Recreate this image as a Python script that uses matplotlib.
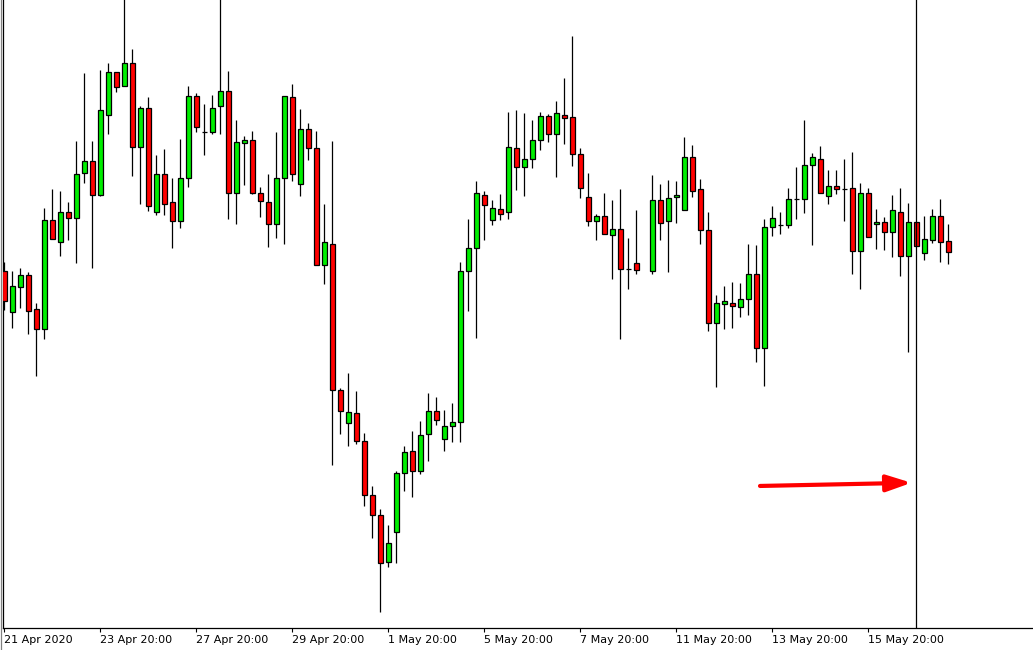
import numpy as np
import matplotlib
matplotlib.use('Agg')
import matplotlib.pyplot as plt
from matplotlib.lines import Line2D

# 4h candles, price in chart units (bigger number = lower price, axis is inverted)
opens = [686, 788, 727, 696, 782, 833, 557, 613, 535, 552, 438, 406, 492, 292, 183, 218,
         160, 372, 274, 535, 441, 512, 560, 449, 244, 335, 335, 269, 231, 489, 362, 353,
         487, 512, 567, 451, 246, 466, 327, 375, 671, 616, 987, 1070, 1045, 1116, 1252, 1303,
         1422, 1346, 1197, 1141, 1190, 1098, 1040, 1111, 1078, 1066, 686, 626, 492, 557, 528, 537,
         375, 423, 403, 353, 294, 340, 290, 297, 390, 497, 560, 547, 595, 580, 681, 666,
         np.nan, 686, 507, 560, 499, 530, 396, 479, 582, 818, 769, 767, 777, 755, 693, 881,
         575, 570, 570, 504, 504, 418, 401, 496, 471, 478, 476, 635, 487, 567, 562, 587,
         535, 648, 562, 640, 607, 547, 610]
highs = [663, 686, 678, 688, 766, 527, 479, 482, 512, 357, 185, 357, 178, 160, 181, -20,
         125, 267, 245, 392, 377, 450, 352, 217, 236, 263, 240, -20, 180, 303, 345, 331,
         473, 440, 334, 243, 212, 276, 311, 331, 516, 357, 981, 943, 989, 1095, 1228, 1288,
         1328, 1192, 1129, 1090, 1065, 994, 1004, 1037, 1018, 663, 554, 459, 483, 506, 491, 283,
         278, 287, 303, 282, 289, 255, 197, 91, 374, 438, 540, 488, 506, 478, 602, 531,
         np.nan, 443, 465, 455, 458, 346, 367, 453, 536, 746, 723, 713, 716, 617, 620, 555,
         521, 536, 475, 422, 303, 388, 369, 430, 430, 402, 384, 463, 476, 529, 549, 493,
         475, 513, 562, 546, 529, 503, 567]
lows = [785, 830, 778, 845, 952, 857, 605, 647, 608, 664, 462, 677, 495, 340, 232, 218,
        444, 515, 533, 543, 543, 626, 576, 472, 333, 391, 340, 340, 555, 566, 467, 490,
        550, 625, 603, 616, 457, 495, 404, 671, 717, 1175, 1097, 1129, 1124, 1279, 1360, 1548,
        1433, 1423, 1243, 1258, 1198, 1167, 1074, 1140, 1119, 1117, 786, 856, 608, 568, 556, 553,
        481, 495, 424, 379, 359, 447, 363, 420, 502, 572, 606, 592, 705, 858, 730, 693,
        np.nan, 692, 608, 689, 563, 530, 497, 616, 836, 978, 831, 829, 801, 796, 915, 975,
        598, 591, 577, 553, 538, 619, 489, 517, 490, 558, 692, 732, 600, 629, 631, 651,
        697, 891, 623, 657, 614, 662, 667]
closes = [760, 724, 696, 786, 833, 557, 605, 537, 552, 441, 408, 492, 277, 183, 221, 160,
          372, 272, 522, 441, 515, 560, 449, 244, 320, 335, 272, 231, 489, 360, 353, 487,
          509, 567, 451, 243, 441, 327, 375, 671, 613, 987, 1040, 1043, 1116, 1252, 1303, 1424,
          1374, 1197, 1144, 1192, 1099, 1040, 1063, 1078, 1066, 686, 626, 487, 519, 525, 540, 373,
          423, 403, 355, 294, 340, 287, 299, 390, 476, 560, 547, 592, 580, 681, 681, 683,
          np.nan, 507, 563, 502, 493, 396, 482, 582, 818, 767, 760, 774, 755, 693, 881, 575,
          552, 570, 504, 504, 418, 398, 489, 471, 479, 478, 635, 487, 600, 562, 587, 532,
          648, 562, 623, 605, 547, 613, 638]

tick_pos = [0, 12, 24, 36, 48, 60, 72, 84, 96, 108]
tick_labels = ['21 Apr 2020', '23 Apr 20:00', '27 Apr 20:00', '29 Apr 20:00', '1 May 20:00',
               '5 May 20:00', '7 May 20:00', '11 May 20:00', '13 May 20:00', '15 May 20:00']

marker_bar = 114              # vertical line
arrow_from = (94.46, 1229)
arrow_to = (113.4, 1221)

o = np.array(opens, float)
h = np.array(highs, float)
l = np.array(lows, float)
c = np.array(closes, float)
x = np.arange(len(o))
ok = ~np.isnan(o)

W, H = 1033, 650
fig = plt.figure(figsize=(W / 100, H / 100), dpi=100)
ax = fig.add_axes([3 / W, 22 / H, 1 - 3 / W, 628 / H])

up = ok & (c <= o)
dn = ok & (c > o)

ax.vlines(x[ok], l[ok], h[ok], color='black', lw=0.9, zorder=2)
body_lo = np.minimum(o, c)
body_h = np.abs(c - o)
ax.bar(x[up], body_h[up], bottom=body_lo[up], width=0.58, color='#00ee00',
       edgecolor='black', linewidth=0.9, zorder=3)
ax.bar(x[dn], body_h[dn], bottom=body_lo[dn], width=0.58, color='#ff0000',
       edgecolor='black', linewidth=0.9, zorder=3)

ax.axvline(marker_bar, color='black', lw=0.9, zorder=4)

ax.annotate('', xy=arrow_to, xytext=arrow_from,
            arrowprops=dict(arrowstyle='-|>,head_length=0.75,head_width=0.25',
                            mutation_scale=20, color='#ff0000', lw=3, capstyle='round',
                            shrinkA=0, shrinkB=0), zorder=5)

ax.set_xlim((3 - 4.33) / 8, (1033 - 4.33) / 8)
ax.set_ylim(628 * 1568 / 620, 0)

ax.set_xticks(tick_pos)
ax.set_xticklabels(tick_labels, fontsize=8, family='DejaVu Sans', color='#000000')
for t in ax.get_xticklabels():
    t.set_horizontalalignment('left')
ax.tick_params(axis='x', direction='out', length=3, width=0.8, pad=2)
ax.set_yticks([])
for s in ['top', 'right']:
    ax.spines[s].set_visible(False)
ax.spines['left'].set_linewidth(0.9)
ax.spines['bottom'].set_linewidth(0.9)

fig.add_artist(Line2D([0.5 / W, 0.5 / W], [0, 1], color='#808080', lw=0.9))

fig.savefig('out.png', dpi=100)
